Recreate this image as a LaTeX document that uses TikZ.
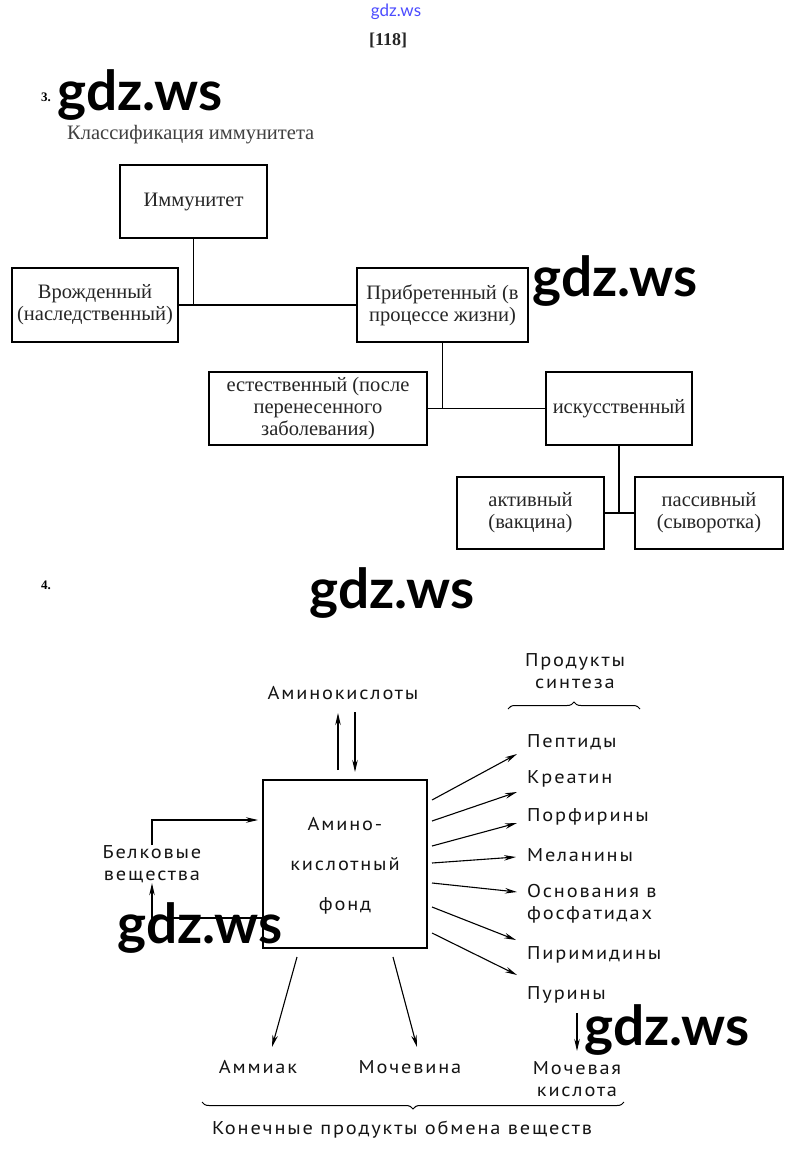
\documentclass[tikz,border=0pt]{standalone}
\usepackage{fontspec}
\setmainfont{Liberation Serif}
\newfontfamily\wmfont{Lato}
\newfontfamily\oldfont{PT Sans}[LetterSpace=10,FakeStretch=1.1]
\usetikzlibrary{arrows.meta,decorations.pathreplacing}
\tikzset{
  box/.style={draw, line width=1.8pt, align=center, inner sep=0pt, text=black!85, font=\fontsize{20.5}{22}\selectfont},
  conn/.style={line width=1.8pt},
  lab/.style={font=\oldfont\fontsize{18.5}{22.5}\selectfont, inner sep=0pt, align=center, text=black!92},
  arr/.style={line width=1.1pt, -{Stealth[length=12pt,width=5.5pt]}},
  wm/.style={font=\wmfont\bfseries\fontsize{55}{55}\selectfont, inner sep=0pt},
  brc/.style={decorate, decoration={brace, amplitude=7pt}, line width=1pt}
}
\begin{document}
\begin{tikzpicture}[x=1pt,y=-1pt]
\useasboundingbox[fill=white] (0,0) rectangle (791,1167);
% header
\node[font=\wmfont\fontsize{17}{17}\selectfont, text=blue!70, inner sep=0pt] (topwm) at (396,12) {gdz.ws};
\node[font=\bfseries\fontsize{18}{18}\selectfont, inner sep=0pt, text=black!85] (page) at (388,40) {[118]};
\node[font=\bfseries\fontsize{13}{13}\selectfont, inner sep=0pt] (n3) at (46,97) {3.};
\node[font=\fontsize{20.5}{20.5}\selectfont, inner sep=0pt, anchor=west, text=black!75] (title) at (67,135) {Классификация иммунитета};
% part 3
\node[box, minimum width=147pt, minimum height=73pt] (imm) at (193.5,201.5) {Иммунитет};
\node[box, minimum width=166pt, minimum height=74pt] (vr) at (95,305) {Врожденный\\(наследственный)};
\node[box, minimum width=171pt, minimum height=74pt] (pr) at (442.5,305) {Прибретенный (в\\процессе жизни)};
\node[box, minimum width=218pt, minimum height=73pt] (est) at (318,408.5) {естественный (после\\перенесенного\\заболевания)};
\node[box, minimum width=146pt, minimum height=73pt] (isk) at (619,408.5) {искусственный};
\node[box, minimum width=147pt, minimum height=72pt] (akt) at (530.5,513) {активный\\(вакцина)};
\node[box, minimum width=148pt, minimum height=72pt] (pas) at (709,513) {пассивный\\(сыворотка)};
\draw[conn] (imm.south) -- (imm.south |- vr.east);
\draw[conn] (vr.east) -- (pr.west);
\draw[conn] (pr.south) -- (pr.south |- est.east);
\draw[conn] (est.east) -- (isk.west);
\draw[conn] (isk.south) -- (isk.south |- akt.east);
\draw[conn] (akt.east) -- (pas.west);
\node[font=\bfseries\fontsize{13}{13}\selectfont, inner sep=0pt] (n4) at (46,585) {4.};
% part 4
\node[lab] (prod) at (575,671) {Продукты\\синтеза};
\coordinate (br1a) at (508,709);
\coordinate (br1b) at (640,709);
\draw[brc] (br1a) -- (br1b);
\node[lab] (amk) at (343,693) {Аминокислоты};
\node[draw, line width=1.8pt, minimum width=164pt, minimum height=168pt, inner sep=0pt] (fund) at (345,864) {};
\node[lab, font=\oldfont\fontsize{18.5}{40}\selectfont] (fundt) at (345,866) {Амино-\\кислотный\\фонд};
\coordinate (up1) at (338,770);
\coordinate (up2) at (338,713);
\coordinate (dn1) at (355,712);
\coordinate (dn2) at (355,772);
\draw[arr] (up1) -- (up2);
\draw[arr] (dn1) -- (dn2);
% left
\node[lab, anchor=north] (bel) at (152,845) {Белковые\\вещества};
\coordinate (bin) at (258,820);
\draw[arr] (bel.north) |- (bin);
\coordinate (bout) at (fund.west |- 0,918);
\draw[arr] (bout) -| (bel.south);
% right labels
\node[lab, anchor=west] (p1) at (527,742) {Пептиды};
\node[lab, anchor=west] (p2) at (527,779) {Креатин};
\node[lab, anchor=west] (p3) at (527,817) {Порфирины};
\node[lab, anchor=west] (p4) at (527,855) {Меланины};
\node[lab, anchor=west, align=left] (p5) at (527,904) {Основания в\\фосфатидах};
\node[lab, anchor=west] (p6) at (527,955) {Пиримидины};
\node[lab, anchor=west] (p7) at (527,995) {Пурины};
\coordinate (s1) at (432,800); \coordinate (e1) at (517,754);
\coordinate (s2) at (432,821); \coordinate (e2) at (517,792);
\coordinate (s3) at (432,846); \coordinate (e3) at (517,823);
\coordinate (s4) at (432,863); \coordinate (e4) at (516,857);
\coordinate (s5) at (432,883); \coordinate (e5) at (517,892);
\coordinate (s6) at (432,907); \coordinate (e6) at (516,940);
\coordinate (s7) at (432,933); \coordinate (e7) at (517,975);
\foreach \i in {1,...,7} {\draw[arr] (s\i) -- (e\i);}
\coordinate (pu1) at (577,1013);
\coordinate (pu2) at (577,1051);
\draw[arr] (pu1) -- (pu2);
% bottom
\coordinate (d1s) at (297,957); \coordinate (d1e) at (272,1047);
\coordinate (d2s) at (393,957); \coordinate (d2e) at (417,1047);
\draw[arr] (d1s) -- (d1e);
\draw[arr] (d2s) -- (d2e);
\node[lab] (amm) at (258,1067) {Аммиак};
\node[lab] (moch) at (410,1067) {Мочевина};
\node[lab] (mk) at (577,1079) {Мочевая\\кислота};
\coordinate (br2a) at (624,1102);
\coordinate (br2b) at (202,1102);
\draw[brc] (br2a) -- (br2b);
\node[lab] (kon) at (402,1130) {Конечные продукты обмена веществ};
% watermarks
\node[wm] (w1) at (140,95) {gdz.ws};
\node[wm] (w2) at (615,281) {gdz.ws};
\node[wm] (w3) at (392,593) {gdz.ws};
\node[wm] (w4) at (200,928) {gdz.ws};
\node[wm] (w5) at (667,1030) {gdz.ws};
\end{tikzpicture}
\end{document}
